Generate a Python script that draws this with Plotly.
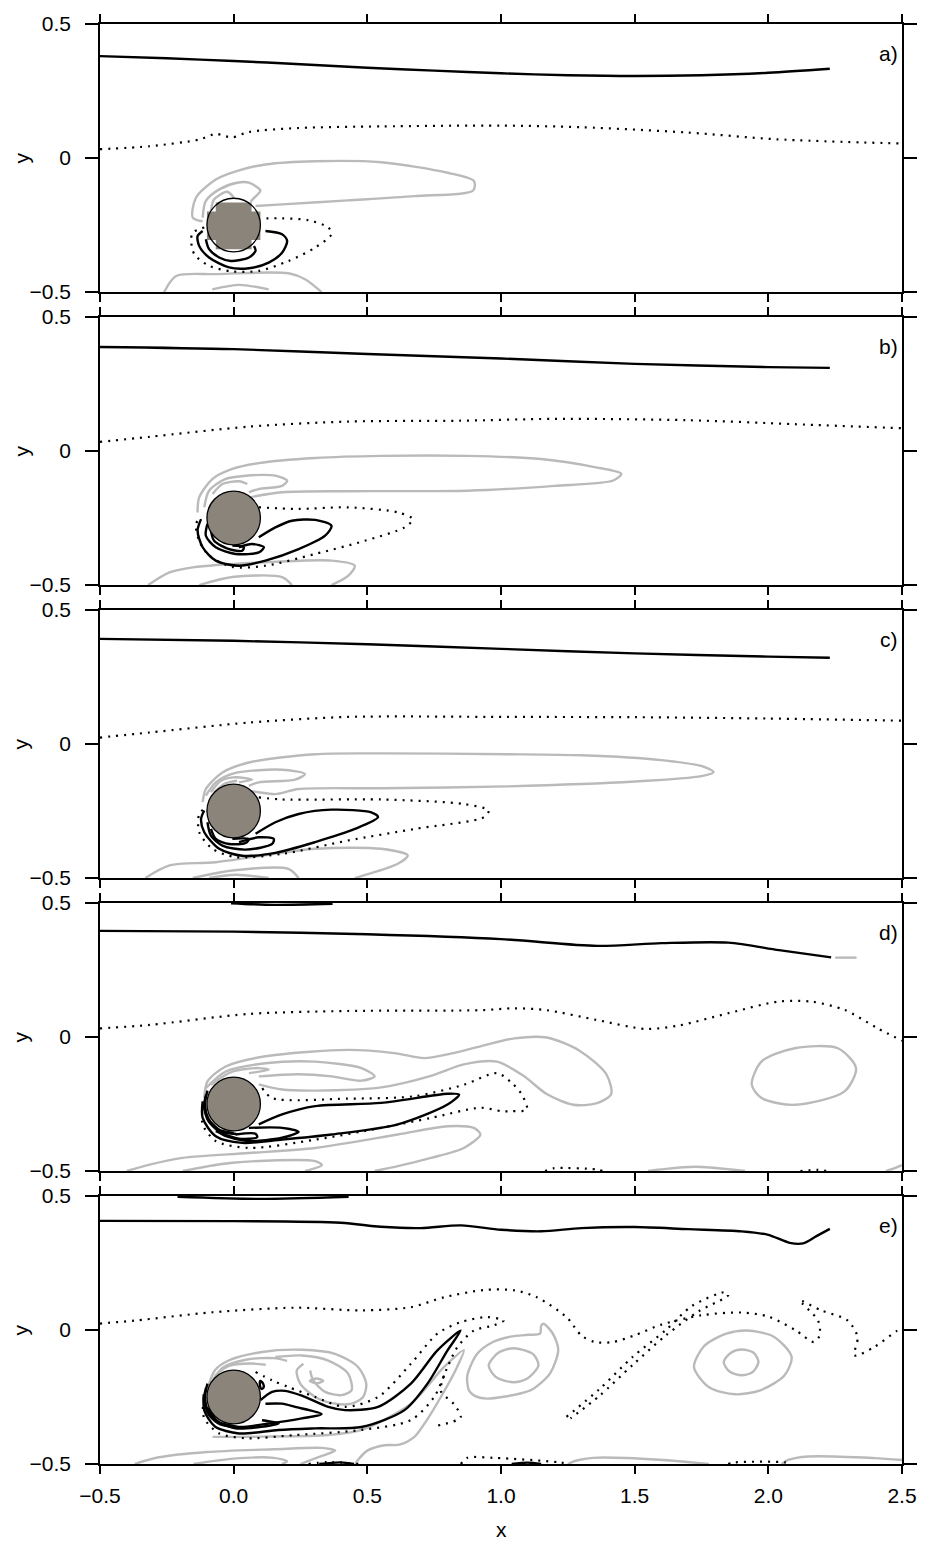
import plotly.graph_objects as go
from plotly.subplots import make_subplots

# ---------------------------------------------------------------
# Axis ticks
# ---------------------------------------------------------------
X_TICKS = [-0.5, 0.0, 0.5, 1.0, 1.5, 2.0, 2.5]
X_TICK_TEXT = ["\u22120.5", "0.0", "0.5", "1.0", "1.5", "2.0", "2.5"]
Y_TICKS = [-0.5, 0.0, 0.5]
Y_TICK_TEXT = ["\u22120.5", "0", "0.5"]
PANEL_LABELS = ["a)", "b)", "c)", "d)", "e)"]

# cylinder
CYL_X, CYL_Y, CYL_R = 0.0, -0.25, 0.1

# ---------------------------------------------------------------
# Panel a: contour paths (x, y)
# ---------------------------------------------------------------
A_STREAM = [(-0.5, 0.380), (-0.25, 0.372), (0.0, 0.362), (0.25, 0.350), (0.5, 0.337), (0.75, 0.326),
            (1.0, 0.316), (1.25, 0.309), (1.5, 0.306), (1.75, 0.309), (2.0, 0.318), (2.23, 0.333)]
A_DIVIDE = [(-0.5, 0.033), (-0.314, 0.044), (-0.129, 0.069), (-0.067, 0.09), (-0.03, 0.081),
            (-0.005, 0.077), (0.057, 0.097), (0.243, 0.112), (0.551, 0.118), (1.0, 0.121),
            (1.3, 0.115), (1.7, 0.095), (2.03, 0.07), (2.5, 0.054)]
A_GRAY_OUTER = [(-0.116, -0.236), (-0.153, -0.222), (-0.141, -0.148), (-0.067, -0.08), (0.02, -0.046),
                (0.119, -0.024), (0.305, -0.012), (0.552, -0.016), (0.8, -0.055), (0.899, -0.086),
                (0.896, -0.121), (0.676, -0.142), (0.428, -0.158), (0.181, -0.173), (0.082, -0.179)]
A_GRAY_IN1 = [(-0.116, -0.222), (-0.104, -0.16), (-0.054, -0.117), (0.013, -0.092), (0.057, -0.092),
              (0.1, -0.121), (0.079, -0.146), (0.063, -0.163)]
A_GRAY_IN2 = [(-0.085, -0.198), (-0.073, -0.154), (-0.024, -0.126), (0.001, -0.148)]
A_GRAY_LOW1 = [(-0.26, -0.5), (-0.215, -0.44), (-0.067, -0.433), (0.205, -0.43), (0.267, -0.452), (0.329, -0.5)]
A_GRAY_LOW2 = [(-0.08, -0.49), (0.02, -0.473), (0.131, -0.49)]
A_BLACK_1 = [(-0.116, -0.272), (-0.135, -0.291), (-0.129, -0.328), (-0.092, -0.371), (-0.017, -0.408),
             (0.057, -0.411), (0.131, -0.39), (0.181, -0.353), (0.2, -0.309), (0.181, -0.284), (0.119, -0.272)]
A_BLACK_2 = [(-0.104, -0.303), (-0.092, -0.34), (-0.054, -0.371), (-0.011, -0.384), (0.057, -0.371),
             (0.082, -0.346), (0.076, -0.328)]
A_DOT_LOOP = [(-0.11, -0.259), (-0.153, -0.278), (-0.159, -0.309), (-0.147, -0.359), (-0.092, -0.402),
              (-0.005, -0.423), (0.094, -0.421), (0.205, -0.384), (0.305, -0.334), (0.366, -0.284),
              (0.354, -0.259), (0.28, -0.232), (0.181, -0.225), (0.107, -0.225)]
# solid-body cells of the coarse grid in panel a
A_MASK = [(-0.067, -0.166), (0.067, -0.166), (0.067, -0.199), (0.1, -0.199), (0.1, -0.306), (0.067, -0.306),
          (0.067, -0.34), (-0.067, -0.34), (-0.067, -0.306), (-0.1, -0.306), (-0.1, -0.199), (-0.067, -0.199),
          (-0.067, -0.166)]

# ---------------------------------------------------------------
# Panel b
# ---------------------------------------------------------------
B_STREAM = [(-0.5, 0.388), (0.0, 0.38), (0.5, 0.362), (1.0, 0.345), (1.5, 0.325), (2.0, 0.313), (2.23, 0.31)]
B_DIVIDE = [(-0.5, 0.034), (-0.314, 0.053), (0.057, 0.091), (0.428, 0.11), (0.848, 0.113), (1.2, 0.12),
            (1.7, 0.115), (2.1, 0.1), (2.5, 0.085)]
B_GRAY_OUTER = [(-0.135, -0.229), (-0.129, -0.173), (-0.079, -0.104), (-0.005, -0.067), (0.094, -0.045),
                (0.305, -0.026), (0.552, -0.018), (0.874, -0.018), (1.15, -0.03), (1.35, -0.06),
                (1.45, -0.085), (1.42, -0.11), (1.2, -0.13), (0.874, -0.148), (0.428, -0.15),
                (0.181, -0.154), (0.057, -0.173)]
B_GRAY_IN1 = [(-0.11, -0.21), (-0.092, -0.148), (-0.03, -0.104), (0.045, -0.092), (0.156, -0.092),
              (0.2, -0.111), (0.181, -0.13), (0.094, -0.142), (0.057, -0.154)]
B_GRAY_IN2 = [(-0.079, -0.16), (-0.042, -0.123), (0.02, -0.113), (0.051, -0.123)]
B_BLACK_1 = [(0.094, -0.322), (0.156, -0.285), (0.218, -0.26), (0.305, -0.257), (0.366, -0.279),
             (0.342, -0.316), (0.243, -0.366), (0.119, -0.409), (0.02, -0.428), (-0.067, -0.409),
             (-0.116, -0.359), (-0.135, -0.297), (-0.122, -0.254)]
B_BLACK_2 = [(-0.098, -0.272), (-0.104, -0.316), (-0.067, -0.359), (0.007, -0.384), (0.094, -0.378),
             (0.113, -0.359), (0.069, -0.347), (0.02, -0.359)]
B_BLACK_3 = [(-0.085, -0.297), (-0.073, -0.335), (-0.017, -0.366), (0.032, -0.372), (0.038, -0.359),
             (-0.005, -0.353)]
B_DOT_LOOP = [(0.094, -0.21), (0.243, -0.216), (0.428, -0.21), (0.614, -0.229), (0.67, -0.254),
              (0.639, -0.285), (0.49, -0.335), (0.305, -0.384), (0.119, -0.428), (-0.005, -0.432),
              (-0.092, -0.39), (-0.129, -0.335), (-0.141, -0.272), (-0.122, -0.247)]
B_GRAY_LOW1 = [(-0.32, -0.5), (-0.24, -0.453), (-0.153, -0.434), (0.119, -0.415), (0.366, -0.409),
               (0.453, -0.428), (0.428, -0.466), (0.366, -0.5)]
B_GRAY_LOW2 = [(-0.129, -0.5), (-0.005, -0.47), (0.181, -0.47), (0.218, -0.5)]

# ---------------------------------------------------------------
# Panel c
# ---------------------------------------------------------------
C_STREAM = [(-0.5, 0.392), (0.0, 0.385), (0.5, 0.372), (1.0, 0.355), (1.5, 0.338), (2.0, 0.326), (2.23, 0.322)]
C_DIVIDE = [(-0.5, 0.024), (-0.314, 0.043), (0.057, 0.08), (0.428, 0.101), (1.022, 0.101), (1.5, 0.1),
            (2.0, 0.095), (2.5, 0.087)]
C_GRAY_OUTER = [(-0.116, -0.217), (-0.104, -0.168), (-0.042, -0.106), (0.057, -0.069), (0.305, -0.038),
                (0.552, -0.035), (1.022, -0.038), (1.3, -0.042), (1.6, -0.06), (1.76, -0.085),
                (1.795, -0.105), (1.75, -0.12), (1.5, -0.14), (1.022, -0.158), (0.552, -0.165),
                (0.243, -0.168), (0.156, -0.187), (0.094, -0.18), (0.057, -0.174)]
C_GRAY_IN1 = [(-0.104, -0.193), (-0.067, -0.143), (0.007, -0.108), (0.181, -0.096), (0.267, -0.112),
              (0.23, -0.133), (0.094, -0.143), (0.057, -0.156)]
C_GRAY_IN2 = [(-0.085, -0.18), (-0.048, -0.137), (0.007, -0.124), (0.069, -0.133), (0.02, -0.143)]
C_GRAY_IN3 = [(-0.073, -0.18), (-0.036, -0.149), (0.013, -0.137)]
C_BLACK_1 = [(0.082, -0.335), (0.156, -0.292), (0.243, -0.261), (0.366, -0.245), (0.515, -0.255),
             (0.54, -0.273), (0.453, -0.317), (0.305, -0.366), (0.156, -0.406), (0.032, -0.417),
             (-0.054, -0.391), (-0.11, -0.329), (-0.122, -0.28), (-0.11, -0.248)]
C_BLACK_2 = [(-0.098, -0.292), (-0.085, -0.342), (-0.042, -0.379), (0.045, -0.394), (0.144, -0.373),
             (0.15, -0.354), (0.094, -0.348), (0.02, -0.366)]
C_BLACK_3 = [(-0.085, -0.317), (-0.067, -0.354), (-0.017, -0.373), (0.045, -0.369), (0.057, -0.354),
             (-0.005, -0.354)]
C_DOT_LOOP = [(0.094, -0.199), (0.181, -0.207), (0.552, -0.207), (0.862, -0.224), (0.954, -0.248),
              (0.936, -0.273), (0.676, -0.317), (0.428, -0.36), (0.181, -0.41), (0.007, -0.422),
              (-0.079, -0.391), (-0.129, -0.329), (-0.129, -0.261), (-0.11, -0.242)]
C_GRAY_LOW1 = [(-0.33, -0.5), (-0.24, -0.453), (-0.067, -0.441), (0.305, -0.391), (0.552, -0.391),
               (0.651, -0.416), (0.614, -0.447), (0.453, -0.5)]
C_GRAY_LOW2 = [(-0.153, -0.5), (-0.005, -0.472), (0.205, -0.466), (0.243, -0.5)]
C_GRAY_LOW3 = [(-0.092, -0.5), (0.007, -0.488), (0.131, -0.5)]

# ---------------------------------------------------------------
# Panel d
# ---------------------------------------------------------------
D_TOP_LENS = [(-0.01, 0.499), (0.15, 0.493), (0.37, 0.497)]
D_STREAM = [(-0.5, 0.396), (0.0, 0.393), (0.5, 0.383), (1.0, 0.365), (1.36, 0.34), (1.6, 0.35),
            (1.85, 0.352), (2.04, 0.324), (2.235, 0.297)]
D_STREAM_TAIL = [(2.25, 0.296), (2.33, 0.296)]
D_DIVIDE = [(-0.5, 0.032), (-0.314, 0.045), (0.057, 0.086), (0.428, 0.097), (0.923, 0.1), (1.05, 0.107),
            (1.171, 0.1), (1.356, 0.064), (1.542, 0.03), (1.666, 0.043), (1.851, 0.089), (2.037, 0.132),
            (2.161, 0.132), (2.285, 0.101), (2.408, 0.033), (2.5, -0.014)]
D_GRAY_OUTER = [(-0.11, -0.228), (-0.098, -0.166), (-0.03, -0.11), (0.119, -0.072), (0.428, -0.048),
                (0.6, -0.06), (0.713, -0.079), (0.8, -0.065), (0.923, -0.035), (1.05, -0.005),
                (1.171, -0.002), (1.295, -0.052), (1.394, -0.139), (1.412, -0.213), (1.356, -0.248),
                (1.27, -0.253), (1.171, -0.213), (1.084, -0.145), (0.985, -0.092), (0.861, -0.102),
                (0.738, -0.145), (0.552, -0.188), (0.305, -0.2), (0.181, -0.196), (0.094, -0.177)]
D_GRAY_IN1 = [(-0.104, -0.191), (-0.03, -0.129), (0.119, -0.098), (0.305, -0.092), (0.478, -0.116),
              (0.527, -0.147), (0.478, -0.163), (0.366, -0.147), (0.243, -0.139), (0.094, -0.147)]
D_GRAY_IN2 = [(-0.085, -0.178), (-0.005, -0.129), (0.094, -0.116), (0.131, -0.122), (0.057, -0.135)]
D_GRAY_EDDY = [(1.938, -0.178), (1.975, -0.091), (2.099, -0.042), (2.26, -0.042), (2.328, -0.116),
               (2.285, -0.203), (2.099, -0.253), (1.975, -0.228), (1.938, -0.178)]
D_GRAY_LOW1 = [(-0.4, -0.5), (-0.314, -0.476), (-0.191, -0.451), (0.057, -0.433), (0.305, -0.414),
               (0.614, -0.364), (0.8, -0.333), (0.898, -0.339), (0.923, -0.364), (0.861, -0.414),
               (0.738, -0.451), (0.614, -0.482), (0.527, -0.5)]
D_GRAY_LOW2 = [(-0.191, -0.5), (-0.005, -0.469), (0.305, -0.463), (0.33, -0.478), (0.267, -0.5)]
D_GRAY_BOT1 = [(1.55, -0.5), (1.598, -0.494), (1.728, -0.484), (1.913, -0.5)]
D_GRAY_BOT2 = [(2.44, -0.5), (2.47, -0.49), (2.5, -0.478)]
D_DOT_BOT1 = [(1.165, -0.5), (1.196, -0.49), (1.356, -0.494), (1.38, -0.5)]
D_DOT_BOT2 = [(2.12, -0.5), (2.185, -0.496), (2.22, -0.5)]
D_BLACK_1 = [(0.094, -0.326), (0.181, -0.289), (0.305, -0.258), (0.552, -0.246), (0.8, -0.212),
             (0.843, -0.215), (0.8, -0.252), (0.614, -0.326), (0.366, -0.364), (0.181, -0.383),
             (0.032, -0.395), (-0.067, -0.37), (-0.116, -0.302), (-0.116, -0.24)]
D_BLACK_2 = [(0.057, -0.339), (0.181, -0.339), (0.243, -0.354), (0.181, -0.376), (0.057, -0.388),
             (-0.042, -0.364), (-0.092, -0.314)]
D_BLACK_3 = [(0.007, -0.364), (0.082, -0.361), (0.088, -0.374), (0.02, -0.379), (-0.067, -0.351)]
D_BLACK_ARC1 = [(-0.098, -0.2), (-0.107, -0.25), (-0.094, -0.305), (-0.055, -0.345), (0.0, -0.358)]
D_BLACK_ARC2 = [(-0.103, -0.215), (-0.111, -0.26), (-0.094, -0.315), (-0.05, -0.352), (0.01, -0.362)]
D_DOT_LOOP = [(0.107, -0.191), (0.144, -0.228), (0.428, -0.23), (0.676, -0.221), (0.862, -0.178),
              (0.985, -0.135), (1.041, -0.172), (1.078, -0.215), (1.097, -0.271), (1.041, -0.277),
              (1.004, -0.277), (0.923, -0.264), (0.738, -0.302), (0.552, -0.339), (0.305, -0.383),
              (0.057, -0.414), (-0.067, -0.388), (-0.116, -0.326), (-0.116, -0.264)]

# ---------------------------------------------------------------
# Panel e
# ---------------------------------------------------------------
E_TOP_LENS = [(-0.21, 0.497), (0.1, 0.489), (0.43, 0.497)]
E_STREAM = [(-0.5, 0.407), (0.0, 0.406), (0.4, 0.4), (0.55, 0.385), (0.7, 0.38), (0.85, 0.39),
            (1.0, 0.374), (1.15, 0.368), (1.3, 0.38), (1.5, 0.384), (1.7, 0.376), (1.9, 0.368),
            (2.0, 0.355), (2.08, 0.325), (2.13, 0.323), (2.18, 0.35), (2.23, 0.377)]
E_DIVIDE = [(-0.5, 0.024), (-0.37, 0.035), (-0.079, 0.066), (0.23, 0.083), (0.478, 0.073), (0.663, 0.085),
            (0.787, 0.122), (0.936, 0.149), (1.05, 0.148), (1.134, 0.122), (1.245, 0.048), (1.3, -0.02),
            (1.35, -0.045), (1.418, -0.045), (1.5, -0.02), (1.6, 0.02), (1.75, 0.055), (1.9, 0.065),
            (2.0, 0.05), (2.1, 0.0), (2.17, -0.045), (2.192, -0.02), (2.186, 0.035), (2.118, 0.11),
            (2.198, 0.073), (2.297, 0.035), (2.334, -0.027), (2.322, -0.095), (2.396, -0.064),
            (2.483, -0.002), (2.5, 0.005)]
E_DOT_DIAG = [(1.245, -0.324), (1.369, -0.22), (1.493, -0.1), (1.617, 0.0), (1.715, 0.09), (1.839, 0.141),
              (1.85, 0.13), (1.74, 0.07), (1.617, -0.02), (1.493, -0.13), (1.369, -0.245), (1.26, -0.33)]
E_DOT_LOOP = [(0.082, -0.157), (0.144, -0.188), (0.205, -0.213), (0.305, -0.25), (0.416, -0.287),
              (0.54, -0.25), (0.663, -0.126), (0.762, -0.014), (0.849, 0.029), (0.948, 0.048),
              (1.01, 0.035), (0.973, 0.017), (0.899, -0.002), (0.837, -0.064), (0.8, -0.138),
              (0.75, -0.25), (0.663, -0.336), (0.478, -0.373), (0.23, -0.392), (0.045, -0.404),
              (-0.054, -0.386), (-0.11, -0.33), (-0.115, -0.27)]
E_DOT_HOOK = [(0.787, -0.17), (0.775, -0.228), (0.824, -0.277), (0.849, -0.326), (0.762, -0.357)]
E_DOT_BOT1 = [(0.85, -0.5), (0.874, -0.477), (0.972, -0.477), (1.22, -0.494), (1.25, -0.5)]
E_DOT_BOT2 = [(1.85, -0.5), (1.876, -0.494), (2.062, -0.494), (2.08, -0.5)]
E_DOT_BOT3 = [(0.28, -0.5), (0.35, -0.493), (0.47, -0.5)]
E_BLACK_ARM = [(0.1, -0.262), (0.144, -0.231), (0.193, -0.227), (0.255, -0.245), (0.354, -0.287),
               (0.416, -0.299), (0.54, -0.287), (0.663, -0.2), (0.762, -0.076), (0.849, -0.002),
               (0.8, -0.076), (0.725, -0.2), (0.639, -0.299), (0.478, -0.362), (0.305, -0.367),
               (0.168, -0.373), (0.02, -0.386), (-0.07, -0.36), (-0.11, -0.3), (-0.112, -0.24)]
E_BLACK_2 = [(0.119, -0.275), (0.181, -0.275), (0.23, -0.287), (0.329, -0.314), (0.255, -0.33),
             (0.131, -0.349), (0.02, -0.362), (-0.06, -0.34), (-0.095, -0.29)]
E_BLACK_3 = [(0.106, -0.337), (0.168, -0.349), (0.082, -0.364), (0.007, -0.367), (-0.07, -0.34)]
E_BLACK_SMALL = [(0.1, -0.19), (0.11, -0.2), (0.112, -0.215), (0.104, -0.22), (0.098, -0.205), (0.1, -0.19)]
E_BLACK_ARC1 = [(-0.098, -0.2), (-0.107, -0.25), (-0.094, -0.305), (-0.055, -0.345), (0.0, -0.358)]
E_BLACK_ARC2 = [(-0.103, -0.215), (-0.111, -0.26), (-0.094, -0.315), (-0.05, -0.352), (0.01, -0.362)]
E_BLACK_BOT1 = [(0.32, -0.5), (0.4, -0.494), (0.45, -0.5)]
E_BLACK_BOT2 = [(1.04, -0.5), (1.1, -0.495), (1.15, -0.5)]
E_GRAY_SWIRL1 = [(-0.095, -0.21), (-0.07, -0.15), (-0.017, -0.113), (0.106, -0.082), (0.255, -0.074),
                 (0.379, -0.089), (0.465, -0.138), (0.496, -0.2), (0.484, -0.25), (0.441, -0.275),
                 (0.379, -0.275), (0.305, -0.25), (0.249, -0.2), (0.236, -0.151), (0.261, -0.126)]
E_GRAY_SWIRL2 = [(0.156, -0.101), (0.255, -0.095), (0.354, -0.114), (0.428, -0.163), (0.441, -0.225),
                 (0.403, -0.243), (0.342, -0.231), (0.298, -0.188), (0.286, -0.151)]
E_GRAY_CORE = [(0.285, -0.19), (0.31, -0.181), (0.335, -0.19), (0.31, -0.199), (0.285, -0.19)]
E_GRAY_TOP1 = [(-0.08, -0.19), (-0.04, -0.14), (0.05, -0.11), (0.15, -0.105), (0.2, -0.115)]
E_GRAY_TOP2 = [(-0.07, -0.17), (-0.02, -0.135), (0.06, -0.125), (0.12, -0.13)]
E_GRAY_ARM = [(-0.079, -0.399), (0.1, -0.398), (0.354, -0.392), (0.478, -0.373), (0.663, -0.275),
              (0.787, -0.138), (0.861, -0.076), (0.83, -0.15), (0.775, -0.25), (0.72, -0.34),
              (0.676, -0.399), (0.62, -0.428), (0.565, -0.43), (0.5, -0.45), (0.465, -0.485), (0.455, -0.5)]
E_GRAY_RING1_OUT = [(0.88, -0.225), (0.874, -0.17), (0.911, -0.089), (0.97, -0.045), (1.035, -0.025),
                    (1.1, -0.018), (1.146, -0.014), (1.15, 0.015), (1.158, 0.023), (1.18, 0.005),
                    (1.2, -0.025), (1.214, -0.076), (1.183, -0.163), (1.12, -0.22), (1.072, -0.237),
                    (0.948, -0.256), (0.9, -0.245), (0.88, -0.225)]
E_GRAY_RING1_IN = [(0.954, -0.132), (0.99, -0.085), (1.047, -0.068), (1.12, -0.09), (1.14, -0.132),
                   (1.1, -0.18), (1.047, -0.195), (0.98, -0.175), (0.954, -0.132)]
E_GRAY_RING2_OUT = [(1.722, -0.139), (1.76, -0.06), (1.84, -0.015), (1.92, -0.002), (2.02, -0.025),
                    (2.087, -0.1), (2.06, -0.17), (1.97, -0.225), (1.876, -0.24), (1.78, -0.215),
                    (1.722, -0.139)]
E_GRAY_RING2_IN = [(1.833, -0.12), (1.86, -0.085), (1.9, -0.073), (1.945, -0.085), (1.963, -0.12),
                   (1.94, -0.158), (1.9, -0.169), (1.855, -0.155), (1.833, -0.12)]
E_GRAY_LOW1 = [(-0.37, -0.5), (-0.28, -0.475), (-0.1, -0.455), (0.15, -0.445), (0.33, -0.44),
               (0.38, -0.45), (0.33, -0.47), (0.25, -0.5)]
E_GRAY_LOW2 = [(-0.15, -0.5), (0.0, -0.48), (0.15, -0.477), (0.2, -0.49), (0.18, -0.5)]
E_GRAY_BOT1 = [(1.25, -0.5), (1.283, -0.487), (1.344, -0.477), (1.592, -0.484), (1.777, -0.5)]
E_GRAY_BOT2 = [(2.05, -0.5), (2.074, -0.485), (2.149, -0.472), (2.396, -0.478), (2.5, -0.485)]

# ---------------------------------------------------------------
# Which path goes in which panel, and with which pen
# ---------------------------------------------------------------
PANELS = [
    [("gray", A_GRAY_OUTER), ("gray", A_GRAY_IN1), ("gray", A_GRAY_IN2), ("gray", A_GRAY_LOW1),
     ("gray", A_GRAY_LOW2), ("dot", A_DIVIDE), ("dot", A_DOT_LOOP), ("solid", A_STREAM),
     ("solid", A_BLACK_1), ("solid", A_BLACK_2)],
    [("gray", B_GRAY_OUTER), ("gray", B_GRAY_IN1), ("gray", B_GRAY_IN2), ("gray", B_GRAY_LOW1),
     ("gray", B_GRAY_LOW2), ("dot", B_DIVIDE), ("dot", B_DOT_LOOP), ("solid", B_STREAM),
     ("solid", B_BLACK_1), ("solid", B_BLACK_2), ("solid", B_BLACK_3)],
    [("gray", C_GRAY_OUTER), ("gray", C_GRAY_IN1), ("gray", C_GRAY_IN2), ("gray", C_GRAY_IN3),
     ("gray", C_GRAY_LOW1), ("gray", C_GRAY_LOW2), ("gray", C_GRAY_LOW3), ("dot", C_DIVIDE),
     ("dot", C_DOT_LOOP), ("solid", C_STREAM), ("solid", C_BLACK_1), ("solid", C_BLACK_2),
     ("solid", C_BLACK_3)],
    [("gray", D_GRAY_OUTER), ("gray", D_GRAY_IN1), ("gray", D_GRAY_IN2), ("gray", D_GRAY_EDDY),
     ("gray", D_GRAY_LOW1), ("gray", D_GRAY_LOW2), ("gray", D_GRAY_BOT1), ("gray", D_GRAY_BOT2),
     ("gray", D_STREAM_TAIL), ("dot", D_DIVIDE), ("dot", D_DOT_LOOP), ("dot", D_DOT_BOT1),
     ("dot", D_DOT_BOT2), ("solid", D_STREAM), ("solid", D_TOP_LENS), ("solid", D_BLACK_1),
     ("solid", D_BLACK_2), ("solid", D_BLACK_3), ("solid", D_BLACK_ARC1), ("solid", D_BLACK_ARC2)],
    [("gray", E_GRAY_SWIRL1), ("gray", E_GRAY_SWIRL2), ("gray", E_GRAY_CORE), ("gray", E_GRAY_TOP1),
     ("gray", E_GRAY_TOP2), ("gray", E_GRAY_ARM), ("gray", E_GRAY_RING1_OUT), ("gray", E_GRAY_RING1_IN),
     ("gray", E_GRAY_RING2_OUT), ("gray", E_GRAY_RING2_IN), ("gray", E_GRAY_LOW1), ("gray", E_GRAY_LOW2),
     ("gray", E_GRAY_BOT1), ("gray", E_GRAY_BOT2), ("dot", E_DIVIDE), ("dot", E_DOT_DIAG),
     ("dot", E_DOT_LOOP), ("dot", E_DOT_HOOK), ("dot", E_DOT_BOT1), ("dot", E_DOT_BOT2),
     ("dot", E_DOT_BOT3), ("solid", E_STREAM), ("solid", E_TOP_LENS), ("solid", E_BLACK_ARM),
     ("solid", E_BLACK_2), ("solid", E_BLACK_3), ("solid", E_BLACK_SMALL), ("solid", E_BLACK_ARC1),
     ("solid", E_BLACK_ARC2), ("solid", E_BLACK_BOT1), ("solid", E_BLACK_BOT2)],
]

PENS = {
    "solid": dict(color="black", width=2.4),
    "dot": dict(color="black", width=2.2, dash="2px,6px"),
    "gray": dict(color="#bababa", width=2.4),
}
BODY_FILL = "#8a847b"
FONT = "Liberation Sans, Arial, Helvetica, sans-serif"

fig = make_subplots(rows=5, cols=1, shared_xaxes=True, vertical_spacing=25 / 1445)

for row, paths in enumerate(PANELS, start=1):
    for pen, pts in paths:
        fig.add_trace(
            go.Scatter(
                x=[p[0] for p in pts], y=[p[1] for p in pts], mode="lines",
                line=dict(shape="spline", smoothing=0.8, **PENS[pen]),
                hoverinfo="skip", showlegend=False,
            ),
            row=row, col=1,
        )

# panel a: body as resolved on the grid
fig.add_trace(
    go.Scatter(x=[p[0] for p in A_MASK], y=[p[1] for p in A_MASK], mode="lines", fill="toself",
               fillcolor=BODY_FILL, line=dict(width=0, color=BODY_FILL),
               hoverinfo="skip", showlegend=False),
    row=1, col=1,
)

for row in range(1, 6):
    sfx = "" if row == 1 else str(row)
    fig.add_shape(
        type="circle", xref="x" + sfx, yref="y" + sfx, layer="above",
        x0=CYL_X - CYL_R, x1=CYL_X + CYL_R, y0=CYL_Y - CYL_R, y1=CYL_Y + CYL_R,
        fillcolor=BODY_FILL if row > 1 else "rgba(0,0,0,0)",
        line=dict(color="black", width=1.3),
    )
    fig.add_annotation(
        text=PANEL_LABELS[row - 1], xref="x%s domain" % sfx, yref="y%s domain" % sfx,
        x=0.998, y=1 - 30 / 269, xanchor="right", yanchor="middle", showarrow=False,
        font=dict(size=21, color="black", family=FONT),
    )
    fig.add_annotation(
        text="y", xref="paper", yref="y" + sfx, x=-80 / 808, y=0.0, textangle=-90,
        xanchor="center", yanchor="middle", showarrow=False,
        font=dict(size=21, color="black", family=FONT),
    )
    fig.update_xaxes(
        row=row, col=1, range=[-0.5, 2.5], showgrid=False, zeroline=False,
        showline=True, linecolor="black", linewidth=1.6, mirror="ticks",
        ticks="outside", ticklen=8, tickwidth=1.6, tickcolor="black",
        tickvals=X_TICKS, ticktext=X_TICK_TEXT, showticklabels=(row == 5),
        tickfont=dict(size=21, color="black", family=FONT), ticklabelstandoff=4,
    )
    fig.update_yaxes(
        row=row, col=1, range=[-0.5, 0.5], showgrid=False, zeroline=False,
        showline=True, linecolor="black", linewidth=1.6, mirror="ticks",
        ticks="outside", ticklen=13, tickwidth=1.6, tickcolor="black",
        tickvals=Y_TICKS, ticktext=Y_TICK_TEXT,
        tickfont=dict(size=21, color="black", family=FONT), ticklabelstandoff=10,
    )

fig.add_annotation(
    text="x", xref="x5", yref="paper", x=1.0, y=-66 / 1445, xanchor="center", yanchor="middle",
    showarrow=False, font=dict(size=21, color="black", family=FONT),
)

fig.update_layout(
    width=929, height=1543, margin=dict(l=100, r=21, t=19, b=79),
    paper_bgcolor="white", plot_bgcolor="white", showlegend=False, hovermode=False,
)

fig.write_html("out.html")
